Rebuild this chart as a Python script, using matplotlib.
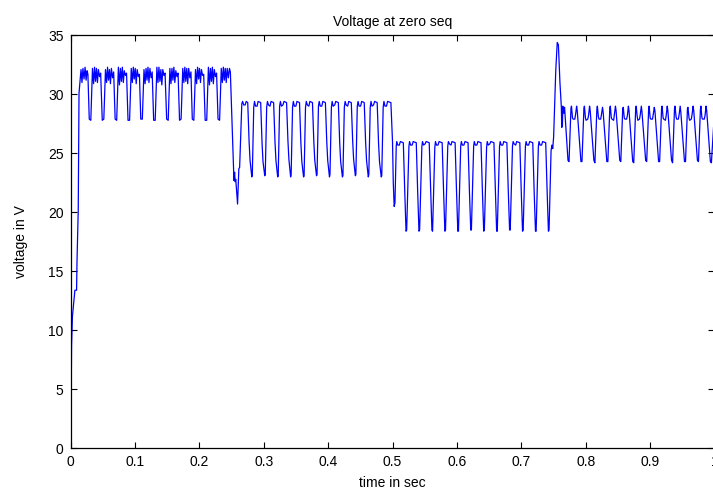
import matplotlib.pyplot as plt

plt.rcParams['font.family'] = ['Liberation Sans', 'DejaVu Sans']

# start-up ramp
start_t = [0.0000, 0.0004, 0.0009, 0.0016, 0.0030, 0.0068, 0.0094, 0.0101, 0.0120, 0.0132, 0.0147, 0.0163,
           0.0178, 0.0193, 0.0210, 0.0226, 0.0242, 0.0257, 0.0270]
start_v = [0.0, 0.6, 3.2, 8.7, 11.2, 13.4, 13.4, 15.9, 20.2, 30.1, 31.1, 32.1,
           31.0, 32.2, 31.3, 32.3, 31.2, 32.0, 31.7]

# first level (~32 V peaks, ~27.8 V dips)
s1_t = [0.0291, 0.0315, 0.0341, 0.0358, 0.0373, 0.0388, 0.0403, 0.0418, 0.0433, 0.0451, 0.0468,
        0.0493, 0.0517, 0.0543, 0.0560, 0.0575, 0.0590, 0.0605, 0.0620, 0.0635, 0.0653, 0.0670,
        0.0693, 0.0717, 0.0743, 0.0760, 0.0775, 0.0790, 0.0805, 0.0820, 0.0835, 0.0853, 0.0870,
        0.0893, 0.0917, 0.0943, 0.0960, 0.0975, 0.0990, 0.1005, 0.1020, 0.1035, 0.1053, 0.1070,
        0.1091, 0.1115, 0.1141, 0.1158, 0.1173, 0.1188, 0.1203, 0.1218, 0.1233, 0.1251, 0.1268,
        0.1291, 0.1315, 0.1341, 0.1358, 0.1373, 0.1388, 0.1403, 0.1418, 0.1433, 0.1451, 0.1468,
        0.1493, 0.1517, 0.1543, 0.1560, 0.1575, 0.1590, 0.1605, 0.1620, 0.1635, 0.1653, 0.1670,
        0.1693, 0.1717, 0.1743, 0.1760, 0.1775, 0.1790, 0.1805, 0.1820, 0.1835, 0.1853, 0.1870,
        0.1891, 0.1915, 0.1941, 0.1958, 0.1973, 0.1988, 0.2003, 0.2018, 0.2033, 0.2051, 0.2068,
        0.2091, 0.2115, 0.2141, 0.2158, 0.2173, 0.2188, 0.2203, 0.2218, 0.2233, 0.2251, 0.2268,
        0.2291, 0.2315, 0.2341, 0.2358, 0.2373, 0.2388, 0.2403, 0.2418, 0.2433, 0.2451, 0.2468]
s1_v = [27.9, 27.8, 32.2, 30.9, 32.3, 31.1, 32.2, 31.0, 32.1, 31.5, 31.8,
        27.8, 27.9, 32.1, 31.0, 32.3, 31.2, 32.1, 30.9, 32.2, 31.4, 31.9,
        27.9, 27.8, 32.3, 30.8, 32.2, 31.1, 32.3, 31.0, 32.0, 31.6, 31.8,
        27.8, 27.8, 32.2, 31.0, 32.3, 31.3, 32.2, 30.9, 32.1, 31.5, 31.7,
        27.9, 27.9, 32.1, 30.9, 32.2, 31.2, 32.3, 31.0, 32.2, 31.4, 31.9,
        27.8, 27.8, 32.3, 31.0, 32.3, 31.1, 32.1, 30.8, 32.1, 31.6, 31.8,
        27.9, 27.8, 32.2, 30.9, 32.2, 31.2, 32.3, 31.0, 32.0, 31.5, 31.8,
        27.8, 27.9, 32.2, 31.0, 32.3, 31.1, 32.2, 30.9, 32.2, 31.4, 31.9,
        27.9, 27.8, 32.1, 30.9, 32.3, 31.3, 32.2, 31.0, 32.1, 31.6, 31.7,
        27.8, 27.8, 32.3, 30.8, 32.2, 31.1, 32.3, 30.9, 32.1, 31.5, 31.8,
        27.9, 27.8, 32.2, 31.0, 32.3, 31.2, 32.2, 31.0, 32.2, 31.4, 32.2]

tr1_t = [0.2482, 0.2512, 0.2538, 0.2548, 0.2556, 0.2566, 0.2594, 0.2614, 0.2626, 0.2660,
         0.2672, 0.2690, 0.2712, 0.2728]
tr1_v = [31.9, 27.0, 22.7, 23.4, 22.6, 22.8, 20.7, 23.7, 23.8, 29.2,
         29.4, 29.1, 29.1, 29.4]

# second level (~29.4 V peaks, ~23 V dips)
s2_t = [0.2752, 0.2773, 0.2788, 0.2815, 0.2823, 0.2845, 0.2857, 0.2873, 0.2897, 0.2913,
        0.2953, 0.2974, 0.2989, 0.3016, 0.3024, 0.3046, 0.3058, 0.3074, 0.3098, 0.3114,
        0.3154, 0.3175, 0.3190, 0.3217, 0.3225, 0.3247, 0.3259, 0.3275, 0.3299, 0.3315,
        0.3355, 0.3376, 0.3391, 0.3418, 0.3426, 0.3448, 0.3460, 0.3476, 0.3500, 0.3516,
        0.3556, 0.3577, 0.3592, 0.3619, 0.3627, 0.3649, 0.3661, 0.3677, 0.3701, 0.3717,
        0.3757, 0.3778, 0.3793, 0.3820, 0.3828, 0.3850, 0.3862, 0.3878, 0.3902, 0.3918,
        0.3958, 0.3979, 0.3994, 0.4021, 0.4029, 0.4051, 0.4063, 0.4079, 0.4103, 0.4119,
        0.4159, 0.4180, 0.4195, 0.4222, 0.4230, 0.4252, 0.4264, 0.4280, 0.4304, 0.4320,
        0.4360, 0.4381, 0.4396, 0.4423, 0.4431, 0.4453, 0.4465, 0.4481, 0.4505, 0.4521,
        0.4561, 0.4582, 0.4597, 0.4624, 0.4632, 0.4654, 0.4666, 0.4682, 0.4706, 0.4722,
        0.4762, 0.4783, 0.4798, 0.4825, 0.4833, 0.4855, 0.4867, 0.4883, 0.4907, 0.4923]
s2_v = [29.3, 26.0, 24.4, 23.0, 23.2, 28.9, 29.4, 29.0, 29.0, 29.4,
        29.3, 25.9, 24.3, 23.1, 23.2, 28.9, 29.4, 29.1, 29.0, 29.4,
        29.3, 26.0, 24.4, 23.0, 23.1, 29.0, 29.4, 29.0, 29.1, 29.4,
        29.3, 26.1, 24.5, 23.0, 23.2, 28.9, 29.4, 29.0, 29.0, 29.4,
        29.3, 25.9, 24.3, 23.0, 23.1, 28.9, 29.4, 29.1, 29.0, 29.4,
        29.3, 26.0, 24.4, 23.1, 23.2, 29.0, 29.4, 29.0, 29.0, 29.4,
        29.3, 26.0, 24.4, 23.0, 23.2, 28.9, 29.4, 29.0, 29.1, 29.4,
        29.3, 25.9, 24.3, 23.0, 23.1, 28.9, 29.4, 29.1, 29.0, 29.4,
        29.3, 26.1, 24.5, 23.1, 23.2, 29.0, 29.4, 29.0, 29.0, 29.4,
        29.3, 26.0, 24.4, 23.0, 23.2, 28.9, 29.4, 29.0, 29.1, 29.4,
        29.3, 25.9, 24.3, 23.0, 23.1, 28.9, 29.4, 29.0, 29.0, 29.4]

tr2_t = [0.4975, 0.5000, 0.5012, 0.5026, 0.5038, 0.5058, 0.5066, 0.5082, 0.5106, 0.5122]
tr2_v = [29.3, 26.0, 22.5, 20.5, 20.8, 25.6, 26.0, 25.7, 25.7, 26.0]

# third level (~26 V peaks, ~18.4 V dips)
s3_t = [0.5168, 0.5190, 0.5210, 0.5220, 0.5255, 0.5265, 0.5281, 0.5305, 0.5321,
        0.5369, 0.5391, 0.5411, 0.5421, 0.5456, 0.5466, 0.5482, 0.5506, 0.5522,
        0.5570, 0.5592, 0.5612, 0.5622, 0.5657, 0.5667, 0.5683, 0.5707, 0.5723,
        0.5771, 0.5793, 0.5813, 0.5823, 0.5858, 0.5868, 0.5884, 0.5908, 0.5924,
        0.5972, 0.5994, 0.6014, 0.6024, 0.6059, 0.6069, 0.6085, 0.6109, 0.6125,
        0.6173, 0.6195, 0.6215, 0.6225, 0.6260, 0.6270, 0.6286, 0.6310, 0.6326,
        0.6374, 0.6396, 0.6416, 0.6426, 0.6461, 0.6471, 0.6487, 0.6511, 0.6527,
        0.6575, 0.6597, 0.6617, 0.6627, 0.6662, 0.6672, 0.6688, 0.6712, 0.6728,
        0.6776, 0.6798, 0.6818, 0.6828, 0.6863, 0.6873, 0.6889, 0.6913, 0.6929,
        0.6977, 0.6999, 0.7019, 0.7029, 0.7064, 0.7074, 0.7090, 0.7114, 0.7130,
        0.7178, 0.7200, 0.7220, 0.7230, 0.7265, 0.7275, 0.7291, 0.7315, 0.7331,
        0.7379, 0.7401, 0.7421, 0.7431]
s3_v = [25.9, 21.8, 18.4, 18.5, 25.6, 26.0, 25.7, 25.7, 26.0,
        25.9, 21.7, 18.4, 18.5, 25.6, 26.0, 25.7, 25.8, 26.0,
        25.9, 21.9, 18.5, 18.4, 25.5, 26.0, 25.7, 25.7, 26.0,
        25.9, 21.8, 18.4, 18.5, 25.6, 26.0, 25.8, 25.7, 26.0,
        25.9, 21.8, 18.4, 18.4, 25.6, 26.0, 25.7, 25.7, 26.0,
        25.9, 21.7, 18.5, 18.5, 25.6, 26.0, 25.7, 25.7, 26.0,
        25.9, 21.8, 18.4, 18.5, 25.5, 26.0, 25.7, 25.8, 26.0,
        25.9, 21.9, 18.4, 18.4, 25.6, 26.0, 25.7, 25.7, 26.0,
        25.9, 21.8, 18.5, 18.5, 25.6, 26.0, 25.8, 25.7, 26.0,
        25.9, 21.8, 18.4, 18.5, 25.6, 26.0, 25.7, 25.7, 26.0,
        25.9, 21.7, 18.4, 18.4, 25.6, 26.0, 25.7, 25.7, 26.0,
        25.9, 21.8, 18.4, 18.5]

# overshoot at the last step
tr3_t = [0.7462, 0.7474, 0.7488, 0.7502, 0.7535, 0.7558, 0.7576, 0.7600, 0.7622, 0.7628,
         0.7638, 0.7645, 0.7660, 0.7672]
tr3_v = [25.2, 25.7, 25.4, 26.4, 32.0, 34.4, 34.2, 31.0, 28.9, 27.2,
         27.3, 29.0, 28.4, 28.9]

# fourth level (~29 V peaks, ~24.3 V dips)
s4_t = [0.7725, 0.7741, 0.7771, 0.7779, 0.7795, 0.7805, 0.7831, 0.7843, 0.7859, 0.7869,
        0.7926, 0.7942, 0.7972, 0.7980, 0.7996, 0.8006, 0.8032, 0.8044, 0.8060, 0.8070,
        0.8127, 0.8143, 0.8173, 0.8181, 0.8197, 0.8207, 0.8233, 0.8245, 0.8261, 0.8271,
        0.8328, 0.8344, 0.8374, 0.8382, 0.8398, 0.8408, 0.8434, 0.8446, 0.8462, 0.8472,
        0.8529, 0.8545, 0.8575, 0.8583, 0.8599, 0.8609, 0.8635, 0.8647, 0.8663, 0.8673,
        0.8730, 0.8746, 0.8776, 0.8784, 0.8800, 0.8810, 0.8836, 0.8848, 0.8864, 0.8874,
        0.8931, 0.8947, 0.8977, 0.8985, 0.9001, 0.9011, 0.9037, 0.9049, 0.9065, 0.9075,
        0.9132, 0.9148, 0.9178, 0.9186, 0.9202, 0.9212, 0.9238, 0.9250, 0.9266, 0.9276,
        0.9333, 0.9349, 0.9379, 0.9387, 0.9403, 0.9413, 0.9439, 0.9451, 0.9467, 0.9477,
        0.9534, 0.9550, 0.9580, 0.9588, 0.9604, 0.9614, 0.9640, 0.9652, 0.9668, 0.9678,
        0.9735, 0.9751, 0.9781, 0.9789, 0.9805, 0.9815, 0.9841, 0.9853, 0.9869, 0.9879,
        0.9936, 0.9952, 0.9985]
s4_v = [24.4, 24.3, 28.8, 29.0, 28.0, 27.9, 27.9, 28.3, 29.0, 28.6,
        24.3, 24.3, 28.8, 29.0, 28.0, 27.8, 27.9, 28.2, 29.0, 28.6,
        24.4, 24.2, 28.7, 29.0, 28.1, 27.9, 27.9, 28.3, 28.9, 28.5,
        24.3, 24.3, 28.8, 29.0, 28.0, 27.9, 27.8, 28.3, 29.0, 28.6,
        24.4, 24.3, 28.8, 28.9, 28.0, 27.9, 27.9, 28.2, 29.0, 28.6,
        24.3, 24.2, 28.8, 29.0, 28.1, 27.8, 27.9, 28.3, 29.0, 28.5,
        24.4, 24.3, 28.7, 29.0, 28.0, 27.9, 27.9, 28.3, 28.9, 28.6,
        24.3, 24.3, 28.8, 29.0, 28.0, 27.9, 27.8, 28.2, 29.0, 28.6,
        24.4, 24.2, 28.8, 29.0, 28.1, 27.9, 27.9, 28.3, 29.0, 28.5,
        24.3, 24.3, 28.8, 28.9, 28.0, 27.8, 27.9, 28.3, 29.0, 28.6,
        24.4, 24.3, 28.7, 29.0, 28.0, 27.9, 27.9, 28.2, 29.0, 28.6,
        24.3, 24.2, 27.2]

t = start_t + s1_t + tr1_t + s2_t + tr2_t + s3_t + tr3_t + s4_t
v = start_v + s1_v + tr1_v + s2_v + tr2_v + s3_v + tr3_v + s4_v

x_ticks = [0, 0.1, 0.2, 0.3, 0.4, 0.5, 0.6, 0.7, 0.8, 0.9, 1.0]
x_labels = ['0', '0.1', '0.2', '0.3', '0.4', '0.5', '0.6', '0.7', '0.8', '0.9', '1']
y_ticks = [0, 5, 10, 15, 20, 25, 30, 35]

fig = plt.figure(figsize=(7.13, 4.95), dpi=100)
ax = fig.add_axes([0.0989, 0.0943, 0.9032, 0.8343])
ax.plot(t, v, color='#0000ff', lw=0.9)

ax.set_xlim(0, 1)
ax.set_ylim(0, 35)
ax.set_xticks(x_ticks)
ax.set_xticklabels(x_labels)
ax.set_yticks(y_ticks)
ax.tick_params(direction='in', top=True, right=True, length=4, width=0.8,
               labelsize=10, pad=5, colors='black')
for s in ax.spines.values():
    s.set_linewidth(0.9)

ax.set_title('Voltage at zero seq', fontsize=10, pad=7)
ax.set_xlabel('time in sec', fontsize=10)
ax.set_ylabel('voltage in V', fontsize=10)
ax.xaxis.set_label_coords(0.5, -0.068)
ax.yaxis.set_label_coords(-0.066, 0.5)

fig.savefig('out.png', dpi=100)
